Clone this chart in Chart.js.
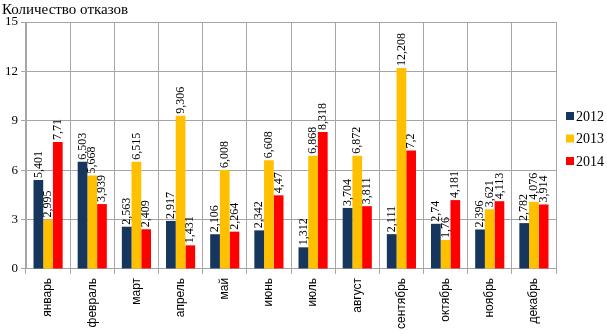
<!DOCTYPE html>
<html>
<head>
<meta charset="utf-8">
<script src="https://cdn.jsdelivr.net/npm/chart.js@4"></script>
<style>
  html, body { margin: 0; padding: 0; background: #fff; }
  #wrap { width: 607px; height: 335px; }
</style>
</head>
<body>
<div id="wrap"><canvas id="myChart" width="607" height="335"></canvas></div>
<script>
var months = ['январь', 'февраль', 'март', 'апрель', 'май', 'июнь', 'июль', 'август', 'сентябрь', 'октябрь', 'ноябрь', 'декабрь'];
var years = ['2012', '2013', '2014'];
var values2012 = [5.401, 6.503, 2.563, 2.917, 2.106, 2.342, 1.312, 3.704, 2.111, 2.74, 2.396, 2.782];
var values2013 = [2.995, 5.668, 6.515, 9.306, 6.008, 6.608, 6.868, 6.872, 12.208, 1.76, 3.621, 4.076];
var values2014 = [7.71, 3.939, 2.409, 1.431, 2.264, 4.47, 8.318, 3.811, 7.2, 4.181, 4.113, 3.914];
var yTicks = [0, 3, 6, 9, 12, 15];

var colors = ['#17365D', '#FFC000', '#FF0000'];
var gridColor = '#A6A6A6';
var serif = '"Liberation Serif", "Times New Roman", serif';

// writes the values over the bars, turned on their side
var barLabels = {
    id: 'barLabels',
    afterDatasetsDraw: function(chart) {
        var ctx = chart.ctx;
        ctx.save();
        ctx.font = '12px ' + serif;
        ctx.fillStyle = '#000';
        ctx.textAlign = 'left';
        ctx.textBaseline = 'middle';
        chart.data.datasets.forEach(function(ds, i) {
            var meta = chart.getDatasetMeta(i);
            meta.data.forEach(function(bar, j) {
                var text = String(ds.data[j]).replace('.', ',');
                ctx.save();
                ctx.translate(bar.x, bar.y - 2);
                ctx.rotate(-Math.PI / 2);
                ctx.fillText(text, 0, 0);
                ctx.restore();
            });
        });
        ctx.restore();
    }
};

// legend on the right, a bit above the middle like in the original
var sideLegend = {
    id: 'sideLegend',
    afterDraw: function(chart) {
        var ctx = chart.ctx;
        var x = chart.chartArea.right + 10;
        var y = 116;
        ctx.save();
        ctx.font = '14px ' + serif;
        ctx.textAlign = 'left';
        ctx.textBaseline = 'middle';
        chart.data.datasets.forEach(function(ds, i) {
            ctx.fillStyle = ds.backgroundColor;
            ctx.fillRect(x, y + i * 22.5 - 4, 8, 8);
            ctx.fillStyle = '#000';
            ctx.fillText(ds.label, x + 10, y + i * 22.5 + 1);
        });
        ctx.restore();
    }
};

var allValues = [values2012, values2013, values2014];

new Chart(document.getElementById('myChart'), {
    type: 'bar',
    data: {
        labels: months,
        datasets: years.map(function(y, i) {
            return {
                label: y,
                data: allValues[i],
                backgroundColor: colors[i],
                borderWidth: 0,
                categoryPercentage: 0.66,
                barPercentage: 1
            };
        })
    },
    options: {
        responsive: false,
        animation: false,
        layout: { padding: { left: 2, right: 51, top: 0, bottom: 2 } },
        plugins: {
            title: {
                display: true,
                text: 'Количество отказов',
                align: 'start',
                color: '#000',
                font: { family: serif, size: 15, weight: 'normal' },
                padding: { top: 1, bottom: 3 }
            },
            legend: { display: false },
            tooltip: { enabled: false }
        },
        scales: {
            x: {
                grid: { color: gridColor, offset: true, tickLength: 5 },
                border: { color: gridColor },
                ticks: {
                    color: '#000',
                    font: { family: '"Liberation Sans", Arial, sans-serif', size: 12 },
                    minRotation: 90,
                    maxRotation: 90,
                    padding: 4
                }
            },
            y: {
                min: 0,
                max: 15,
                afterBuildTicks: function(axis) {
                    axis.ticks = yTicks.map(function(v) { return { value: v }; });
                },
                grid: { color: gridColor, tickLength: 5 },
                border: { color: gridColor },
                ticks: {
                    color: '#000',
                    font: { family: serif, size: 13 },
                    padding: 3
                }
            }
        }
    },
    plugins: [barLabels, sideLegend]
});
</script>
</body>
</html>
